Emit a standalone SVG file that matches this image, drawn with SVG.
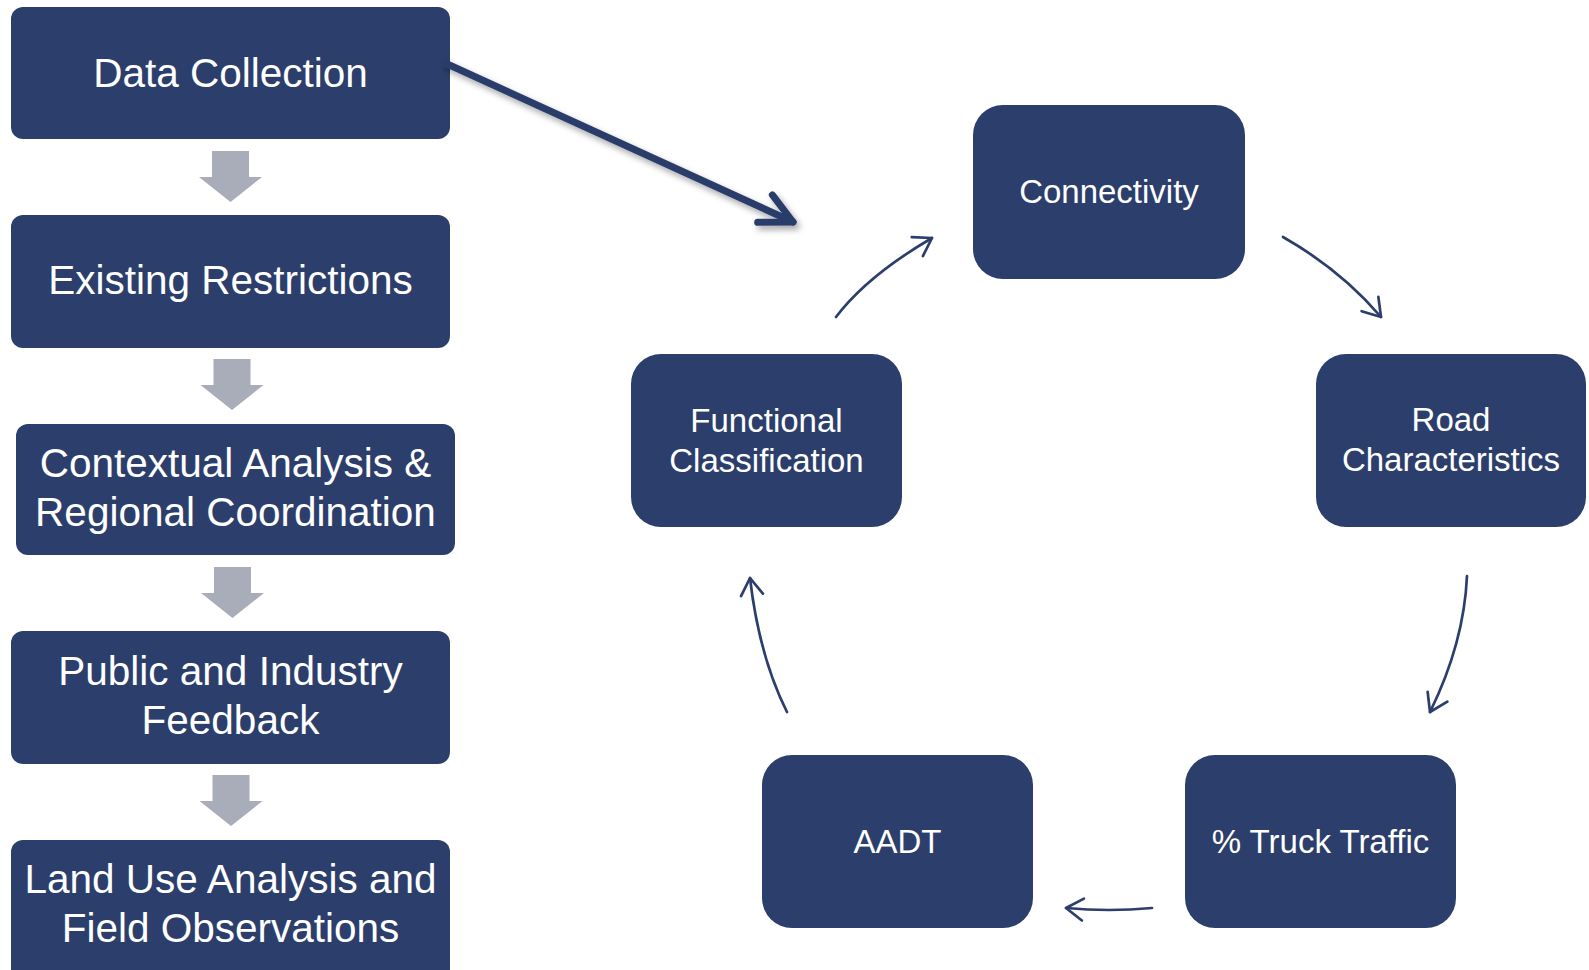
<svg xmlns="http://www.w3.org/2000/svg" xmlns:xlink="http://www.w3.org/1999/xlink" width="1589" height="970" viewBox="0 0 1589 970">
  <style>
    .box { fill: #2C3E6B; }
    .lt { fill: #FFFFFF; font-family: "Liberation Sans", Arial, sans-serif; font-size: 40.5px; text-anchor: middle; }
    .rt { fill: #FFFFFF; font-family: "Liberation Sans", Arial, sans-serif; font-size: 33px; text-anchor: middle; }
    .thin { fill: none; stroke: #2C3E6B; stroke-width: 2.7; stroke-linecap: round; }
    .big { fill: none; stroke: #2C3E6B; stroke-width: 7; stroke-linecap: round; }
    .gray { fill: #A9ACB9; }
  </style>
  <defs>
    <filter id="shadow" x="-20%" y="-20%" width="140%" height="160%">
      <feDropShadow dx="3" dy="4" stdDeviation="3" flood-color="#000000" flood-opacity="0.35"/>
    </filter>
    <marker id="openHead" markerUnits="userSpaceOnUse" viewBox="-25 -15 30 30" markerWidth="30" markerHeight="30" refX="0" refY="0" orient="auto">
      <path d="M-17,-11 L0,0 L-17,11" fill="none" stroke="#2C3E6B" stroke-width="2.7" stroke-linecap="round" stroke-linejoin="round"/>
    </marker>
    <marker id="bigHead" markerUnits="userSpaceOnUse" viewBox="-40 -24 48 48" markerWidth="48" markerHeight="48" refX="0" refY="0" orient="auto">
      <path d="M-30,-16 L0,0 L-32,15" fill="none" stroke="#2C3E6B" stroke-width="7" stroke-linecap="round" stroke-linejoin="round"/>
    </marker>
    <path id="down" class="gray" d="M-18.5,0 L18.5,0 L18.5,26 L31.5,26 L0,51 L-31.5,26 L-18.5,26 Z"/>
  </defs>

  <g id="node-data-collection">
    <rect class="box" x="11" y="7" width="439" height="132" rx="12"/>
    <text class="lt" x="230.5" y="87">Data Collection</text>
  </g>
  <g id="node-existing-restrictions">
    <rect class="box" x="11" y="215" width="439" height="133" rx="12"/>
    <text class="lt" x="230.5" y="294">Existing Restrictions</text>
  </g>
  <g id="node-contextual-analysis">
    <rect class="box" x="16" y="424" width="439" height="131" rx="12"/>
    <text class="lt" x="235.5" y="477">Contextual Analysis &amp;</text>
    <text class="lt" x="235.5" y="526">Regional Coordination</text>
  </g>
  <g id="node-public-feedback">
    <rect class="box" x="11" y="631" width="439" height="133" rx="12"/>
    <text class="lt" x="230.5" y="685">Public and Industry</text>
    <text class="lt" x="230.5" y="734">Feedback</text>
  </g>
  <g id="node-land-use">
    <rect class="box" x="11" y="840" width="439" height="145" rx="12"/>
    <text class="lt" x="230.5" y="893">Land Use Analysis and</text>
    <text class="lt" x="230.5" y="942">Field Observations</text>
  </g>

  <g id="node-connectivity">
    <rect class="box" x="973" y="105" width="272" height="174" rx="30"/>
    <text class="rt" x="1109" y="203">Connectivity</text>
  </g>
  <g id="node-road-characteristics">
    <rect class="box" x="1316" y="354" width="270" height="173" rx="30"/>
    <text class="rt" x="1451" y="431">Road</text>
    <text class="rt" x="1451" y="471">Characteristics</text>
  </g>
  <g id="node-truck-traffic">
    <rect class="box" x="1185" y="755" width="271" height="173" rx="30"/>
    <text class="rt" x="1320.5" y="853">% Truck Traffic</text>
  </g>
  <g id="node-aadt">
    <rect class="box" x="762" y="755" width="271" height="173" rx="30"/>
    <text class="rt" x="897.5" y="853">AADT</text>
  </g>
  <g id="node-functional-classification">
    <rect class="box" x="631" y="354" width="271" height="173" rx="30"/>
    <text class="rt" x="766.5" y="432">Functional</text>
    <text class="rt" x="766.5" y="472">Classification</text>
  </g>

  <g id="connectors">
    <use href="#down" x="230.5" y="151"/>
    <use href="#down" x="232" y="359"/>
    <use href="#down" x="232.5" y="567"/>
    <use href="#down" x="231" y="775"/>
    <path class="big" filter="url(#shadow)" d="M445,63 L793,222" marker-end="url(#bigHead)"/>
    <path class="thin" d="M836,317 Q867,276 932,238" marker-end="url(#openHead)"/>
    <path class="thin" d="M1283,237 Q1341,270 1381,317" marker-end="url(#openHead)"/>
    <path class="thin" d="M1467,576 Q1464,643 1430,712" marker-end="url(#openHead)"/>
    <path class="thin" d="M1152,908 Q1109,912 1066,908" marker-end="url(#openHead)"/>
    <path class="thin" d="M787,712 Q759,656 750,578" marker-end="url(#openHead)"/>
  </g>
</svg>
